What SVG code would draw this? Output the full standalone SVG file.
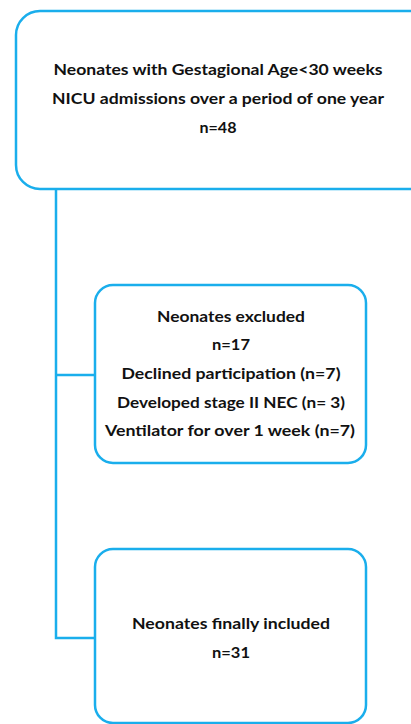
<svg xmlns="http://www.w3.org/2000/svg" width="411" height="724" viewBox="0 0 411 724">
<style>
.box{fill:#ffffff;stroke:#1AAEEC;stroke-width:2.5}
.ln{fill:none;stroke:#1AAEEC;stroke-width:2.5}
text{font-family:Lato,"Liberation Sans",Arial,sans-serif;font-weight:bold;font-size:15.5px;fill:#111;text-anchor:middle}
</style>
<rect width="411" height="724" fill="#ffffff"/>
<g id="connectors">
<path class="ln" d="M56,189 V638 H95"/>
<path class="ln" d="M56,375 H95"/>
</g>
<g id="node-admissions">
<rect class="box" x="16" y="11" width="420" height="178" rx="24"/>
<text x="218" y="75" textLength="329" lengthAdjust="spacingAndGlyphs">Neonates with Gestagional Age&lt;30 weeks</text>
<text x="218" y="104" textLength="332" lengthAdjust="spacingAndGlyphs">NICU admissions over a period of one year</text>
<text x="218" y="133" textLength="37" lengthAdjust="spacingAndGlyphs">n=48</text>
</g>
<g id="node-excluded">
<rect class="box" x="95" y="285" width="271" height="178" rx="18"/>
<text x="231" y="322" textLength="148" lengthAdjust="spacingAndGlyphs">Neonates excluded</text>
<text x="231" y="350" textLength="38" lengthAdjust="spacingAndGlyphs">n=17</text>
<text x="231" y="379" textLength="219" lengthAdjust="spacingAndGlyphs">Declined participation (n=7)</text>
<text x="231" y="408" textLength="228" lengthAdjust="spacingAndGlyphs">Developed stage II NEC (n= 3)</text>
<text x="230" y="436" textLength="250" lengthAdjust="spacingAndGlyphs">Ventilator for over 1 week (n=7)</text>
</g>
<g id="node-included">
<rect class="box" x="95" y="549" width="271" height="174" rx="18"/>
<text x="231" y="629" textLength="198" lengthAdjust="spacingAndGlyphs">Neonates finally included</text>
<text x="231" y="658" textLength="38" lengthAdjust="spacingAndGlyphs">n=31</text>
</g>
</svg>
